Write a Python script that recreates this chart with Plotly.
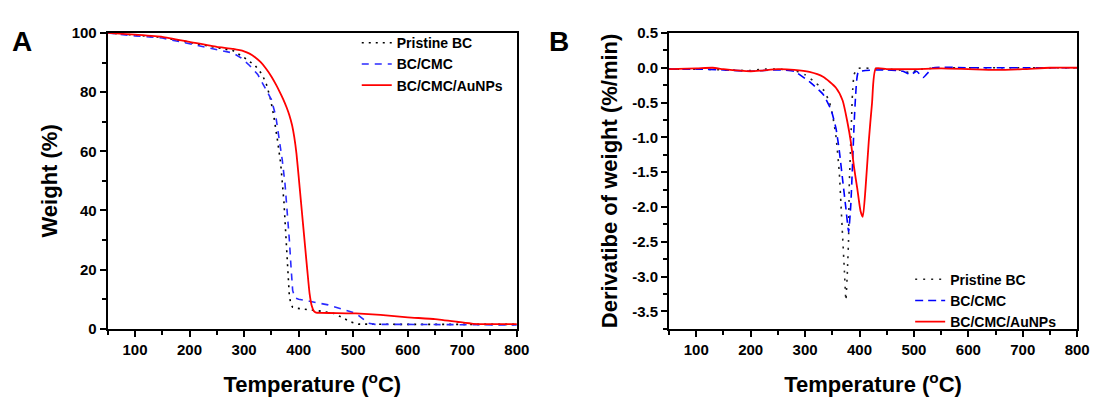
import plotly.graph_objects as go

W, H = 1105, 401

# ---------------- Panel A: TGA weight (%) ----------------
a_pristine_t = [50, 100, 150, 200, 250, 280, 300, 320, 333, 341, 348, 354, 361, 367, 373, 376, 379, 383, 386, 389, 395, 400, 420, 440, 465, 481, 496, 510, 550, 600, 700, 800]
a_pristine_w = [100, 99.2, 98.5, 96.8, 95.2, 94.0, 91.7, 89.0, 86.0, 82.6, 78.0, 72.4, 64, 56, 43, 33, 22, 11, 8.3, 7.3, 7.0, 6.9, 6.5, 6.0, 5.2, 3.6, 2.3, 1.6, 1.5, 1.5, 1.5, 1.5]

a_cmc_t = [50, 100, 150, 200, 250, 280, 295, 310, 325, 340, 350, 358, 365, 370, 375, 379, 383, 386, 389, 393, 400, 420, 454, 483, 505, 528, 540, 600, 700, 800]
a_cmc_w = [100, 99.0, 98.3, 96.3, 94.5, 93.2, 91.5, 89.0, 86.0, 81.0, 77.5, 72.0, 64.0, 57.0, 49.0, 40.0, 30.0, 21.0, 13.0, 10.5, 10.0, 9.3, 8.1, 6.5, 5.2, 1.9, 1.5, 1.5, 1.4, 1.3]

a_au_t = [50, 100, 150, 200, 250, 280, 300, 310, 320, 330, 340, 350, 358, 365, 372, 378, 383, 388, 392, 396, 400, 404, 408, 412, 416, 420, 424, 428, 432, 440, 470, 505, 550, 600, 650, 690, 720, 760, 800]
a_au_w = [100, 99.4, 98.7, 97.0, 95.3, 94.6, 93.8, 93.0, 91.8, 90.2, 88.0, 85.3, 82.7, 80.2, 77.5, 74.8, 72.2, 68.8, 64.8, 59.2, 51.5, 43.5, 35.5, 27.5, 19.5, 12.0, 7.8, 6.0, 5.5, 5.4, 5.3, 5.2, 4.7, 3.9, 3.3, 2.4, 1.7, 1.6, 1.6]

# ---------------- Panel B: DTG (%/min) ----------------
b_pristine_t = [50, 100, 150, 200, 220, 250, 280, 300, 320, 335, 345, 351, 357, 363, 366, 369, 372, 375, 378, 380, 381, 384, 387, 390, 396, 450, 480, 495, 505, 550, 600, 700, 800]
b_pristine_d = [-0.02, -0.02, -0.03, -0.04, -0.02, -0.02, -0.04, -0.10, -0.22, -0.33, -0.50, -0.70, -1.00, -1.52, -1.97, -2.43, -2.88, -3.34, -2.88, -2.43, -1.74, -1.06, -0.38, -0.10, -0.01, -0.02, -0.04, -0.08, -0.03, 0.0, 0.0, 0.0, 0.0]

b_cmc_t = [50, 100, 150, 200, 250, 280, 308, 333, 348, 357, 363, 369, 375, 380, 384, 387, 390, 393, 398, 450, 480, 494, 505, 517, 535, 600, 700, 800]
b_cmc_d = [-0.02, -0.02, -0.03, -0.05, -0.03, -0.05, -0.20, -0.38, -0.61, -0.88, -1.20, -1.61, -2.02, -2.36, -1.97, -1.43, -0.83, -0.38, -0.06, -0.03, -0.05, -0.10, -0.05, -0.14, 0.0, 0.0, 0.0, 0.0]

b_au_t = [50, 100, 130, 150, 200, 220, 250, 280, 308, 333, 357, 369, 378, 384, 390, 396, 402, 406, 411, 417, 423, 430, 450, 500, 550, 600, 650, 700, 750, 800]
b_au_d = [-0.02, -0.01, 0.0, -0.02, -0.05, -0.04, -0.02, -0.03, -0.06, -0.13, -0.29, -0.47, -0.79, -1.06, -1.43, -1.74, -2.06, -2.14, -1.74, -1.06, -0.51, -0.01, -0.02, -0.02, -0.01, -0.02, -0.03, -0.02, 0.0, 0.0]

names = ["Pristine BC", "BC/CMC", "BC/CMC/AuNPs"]

x_ticks = [100, 200, 300, 400, 500, 600, 700, 800]
x_ticktext = ["100", "200", "300", "400", "500", "600", "700", "800"]
a_y_ticks = [0, 20, 40, 60, 80, 100]
a_y_ticktext = ["0", "20", "40", "60", "80", "100"]
b_y_ticks = [0.5, 0.0, -0.5, -1.0, -1.5, -2.0, -2.5, -3.0, -3.5]
b_y_ticktext = ["0.5", "0.0", "-0.5", "-1.0", "-1.5", "-2.0", "-2.5", "-3.0", "-3.5"]

FONT = "Liberation Sans, Arial, sans-serif"

fig = go.Figure()

styles_a = [
    dict(color="#000000", width=1.6, dash="2px,5px"),
    dict(color="#2a2aff", width=1.6, dash="7px,6px"),
    dict(color="#ff0000", width=1.8, shape="spline", smoothing=0.4),
]
styles_b = [
    dict(color="#222222", width=1.6, dash="2px,6px", shape="spline", smoothing=0.4),
    dict(color="#0000ff", width=1.6, dash="8px,5px", shape="spline", smoothing=0.4),
    dict(color="#ff0000", width=1.8, shape="spline", smoothing=0.6),
]

for (t, v), st, nm in zip([(a_pristine_t, a_pristine_w), (a_cmc_t, a_cmc_w), (a_au_t, a_au_w)], styles_a, names):
    fig.add_trace(go.Scatter(x=t, y=v, mode="lines", line=st, name=nm,
                             xaxis="x", yaxis="y", legend="legend"))
for (t, v), st, nm in zip([(b_pristine_t, b_pristine_d), (b_cmc_t, b_cmc_d), (b_au_t, b_au_d)], styles_b, names):
    fig.add_trace(go.Scatter(x=t, y=v, mode="lines", line=st, name=nm,
                             xaxis="x2", yaxis="y2", legend="legend2"))

y_dom = [1 - 334 / H, 1 - 25 / H]
tickfont = dict(family=FONT, size=15, color="#000", weight="bold")
titlefont = dict(family=FONT, size=22, color="#000", weight="bold")

common_x = dict(range=[50, 800], tickmode="array", tickvals=x_ticks, ticktext=x_ticktext,
                ticks="outside", ticklen=6, tickwidth=1.5, tickcolor="#000",
                minor=dict(tickmode="linear", tick0=50, dtick=100, ticks="outside", ticklen=4, tickwidth=1.5, tickcolor="#000"),
                showline=True, linecolor="#000", linewidth=2, mirror=True,
                showgrid=False, zeroline=False, tickfont=tickfont,
                title=dict(text="Temperature (<sup>o</sup>C)", font=titlefont, standoff=20))

fig.update_layout(
    width=W, height=H, margin=dict(l=0, r=0, t=0, b=0),
    paper_bgcolor="white", plot_bgcolor="white",
    xaxis=dict(domain=[109 / W, 523 / W], anchor="y", **common_x),
    xaxis2=dict(domain=[677 / W, 1090 / W], anchor="y2", **common_x),
    yaxis=dict(domain=y_dom, anchor="x", range=[0, 100], tickmode="array",
               tickvals=a_y_ticks, ticktext=a_y_ticktext,
               ticks="outside", ticklen=6, tickwidth=1.5, tickcolor="#000",
               minor=dict(tickmode="linear", tick0=10, dtick=20, ticks="outside", ticklen=4, tickwidth=1.5, tickcolor="#000"),
               showline=True, linecolor="#000", linewidth=2, mirror=True,
               showgrid=False, zeroline=False, tickfont=tickfont,
               title=dict(text="Weight (%)", font=titlefont, standoff=8)),
    yaxis2=dict(domain=y_dom, anchor="x2", range=[-3.75, 0.5], tickmode="array",
                tickvals=b_y_ticks, ticktext=b_y_ticktext,
                ticks="outside", ticklen=6, tickwidth=1.5, tickcolor="#000",
                minor=dict(tickmode="linear", tick0=0.25, dtick=0.5, ticks="outside", ticklen=4, tickwidth=1.5, tickcolor="#000"),
                showline=True, linecolor="#000", linewidth=2, mirror=True,
                showgrid=False, zeroline=False, tickfont=tickfont,
                title=dict(text="Derivatibe of weight (%/min)", font=titlefont, standoff=8)),
    legend=dict(x=361 / W, y=1 - 19 / H, xanchor="left", yanchor="top",
                bgcolor="rgba(0,0,0,0)", borderwidth=0, tracegroupgap=0,
                font=dict(family=FONT, size=14, color="#000", weight="bold")),
    legend2=dict(x=921 / W, y=1 - 266 / H, xanchor="left", yanchor="top",
                 bgcolor="rgba(0,0,0,0)", borderwidth=0, tracegroupgap=0,
                 font=dict(family=FONT, size=14, color="#000", weight="bold")),
    showlegend=True,
    annotations=[
        dict(text="A", x=22 / W, y=1 - 34 / H, xref="paper", yref="paper", showarrow=False,
             xanchor="center", yanchor="middle", font=dict(family=FONT, size=28, color="#000", weight="bold")),
        dict(text="B", x=566 / W, y=1 - 34 / H, xref="paper", yref="paper", showarrow=False,
             xanchor="center", yanchor="middle", font=dict(family=FONT, size=28, color="#000", weight="bold")),
    ],
)

fig.write_html("out.html")
